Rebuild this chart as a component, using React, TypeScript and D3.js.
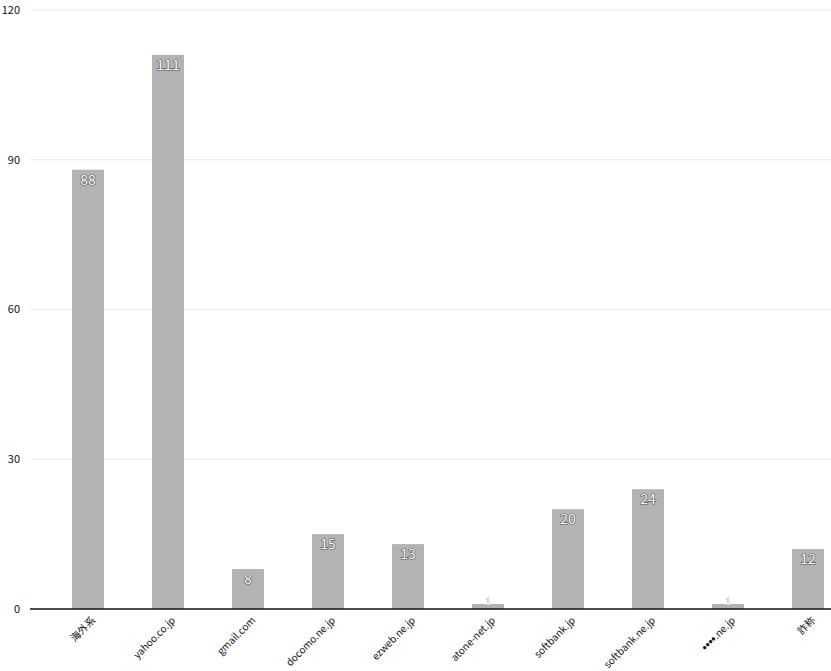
import React from "react";
import * as d3 from "d3";

const categories = ["海外系", "yahoo.co.jp", "gmail.com", "docomo.ne.jp", "ezweb.ne.jp", "atone-net.jp", "softbank.jp", "softbank.ne.jp", "••••.ne.jp", "詐称"];
const values = [88, 111, 8, 15, 13, 1, 20, 24, 1, 12];
const yTicks = [0, 30, 60, 90, 120];

const W = 831;
const H = 671;
const FONT = "'Noto Sans CJK JP', 'Noto Sans', sans-serif";

function label(c: string) {
  const m = c.match(/^(•+)(.*)$/);
  if (!m) return c;
  return (
    <>
      <tspan fontWeight="bold" fontSize={11}>{m[1]}</tspan>
      <tspan>{m[2]}</tspan>
    </>
  );
}

export default function App() {
  const x = d3.scaleBand<string>().domain(categories).range([48, 848]).paddingInner(0.6).paddingOuter(0.3);
  const y = d3.scaleLinear().domain([0, 120]).range([609, 10]);
  const left = 31;
  return (
    <svg width={W} height={H} style={{ position: "absolute", left: 0, top: 0, fontFamily: FONT }}>
      {yTicks.map((t) => (
        <g key={t}>
          {t !== 0 && <line x1={left} x2={W} y1={y(t)} y2={y(t)} stroke="#e9e9e9" strokeWidth={1} />}
          <text x={20} y={y(t)} dy="0.35em" textAnchor="end" fontSize={11} fill="#111">{t}</text>
        </g>
      ))}
      {categories.map((c, i) => {
        const v = values[i];
        const bx = x(c)!;
        const bw = x.bandwidth();
        const top = y(v);
        const small = y(0) - top < 20;
        return (
          <g key={c}>
            <rect x={bx} y={top} width={bw} height={y(0) - top} fill="#b3b3b3" />
            {small ? (
              <text x={bx + bw / 2} y={top + 1} textAnchor="middle" fontSize={9} fill="#fff" stroke="#999" strokeWidth={0.8} paintOrder="stroke">{v}</text>
            ) : (
              <text x={bx + bw / 2} y={top + 15} textAnchor="middle" fontSize={14} fill="#fff" stroke="#555" strokeWidth={1.2} paintOrder="stroke">{v}</text>
            )}
            <text transform={`translate(${bx + bw / 2 + 8},${621}) rotate(-45)`} textAnchor="end" fontSize={10} fill="#111">{label(c)}</text>
          </g>
        );
      })}
      <line x1={30} x2={W} y1={y(0)} y2={y(0)} stroke="#111" strokeWidth={1.5} />
    </svg>
  );
}
